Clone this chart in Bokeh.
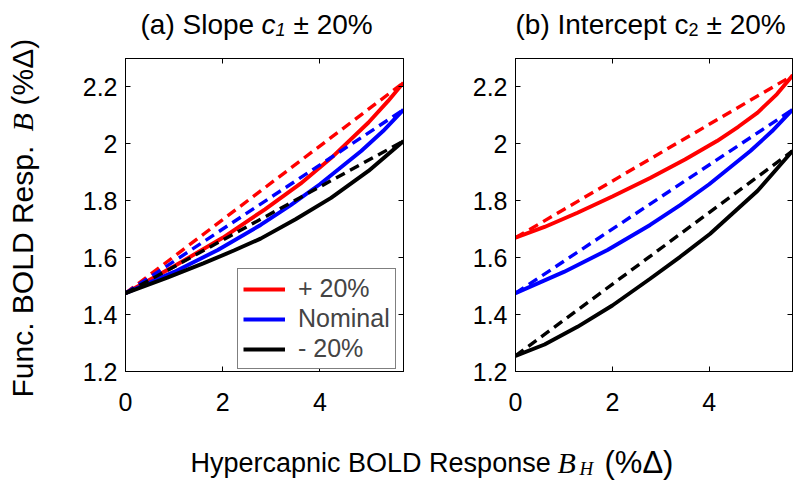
import math
from bokeh.plotting import figure
from bokeh.models import Range1d, LinearAxis, FixedTicker, Label, Legend, LegendItem
from bokeh.layouts import column, row
from bokeh.embed import file_html
from bokeh.resources import INLINE

# ---------------- data ----------------
X_MAX = 5.72
x_ticks = [0, 2, 4]
x_tick_labels = ["0", "2", "4"]
y_ticks = [1.2, 1.4, 1.6, 1.8, 2.0, 2.2]
y_tick_labels = ["1.2", "1.4", "1.6", "1.8", "2", "2.2"]

legend_labels = ["+ 20%", "Nominal", "- 20%"]

# nominal curve (same in both panels)
nominal_x = [0, 1.0, 1.9, 2.78, 3.4, 4.0, 4.85, 5.3, 5.72]
nominal_y = [1.475, 1.55, 1.627, 1.715, 1.785, 1.858, 1.975, 2.045, 2.12]
nominal_lin_x = [0, 5.72]
nominal_lin_y = [1.475, 2.12]

# panel (a): slope c1 +/- 20%
a_plus_x = [0, 1.0, 2.0, 2.87, 3.6, 4.23, 5.0, 5.4, 5.72]
a_plus_y = [1.475, 1.57, 1.67, 1.77, 1.86, 1.95, 2.075, 2.15, 2.215]
a_plus_lin_x = [0, 5.72]
a_plus_lin_y = [1.475, 2.215]
a_minus_x = [0, 0.86, 1.6, 2.23, 2.78, 3.5, 4.23, 5.0, 5.72]
a_minus_y = [1.475, 1.53, 1.58, 1.625, 1.667, 1.735, 1.81, 1.905, 2.01]
a_minus_lin_x = [0, 5.72]
a_minus_lin_y = [1.475, 2.01]

# panel (b): intercept c2 +/- 20%
b_plus_x = [0, 0.6, 1.28, 2.0, 2.78, 3.5, 4.16, 4.6, 5.0, 5.4, 5.72]
b_plus_y = [1.67, 1.708, 1.758, 1.815, 1.88, 1.945, 2.01, 2.06, 2.11, 2.175, 2.24]
b_plus_lin_x = [0, 5.72]
b_plus_lin_y = [1.67, 2.24]
b_minus_x = [0, 0.6, 1.28, 2.0, 2.78, 3.4, 4.02, 5.0, 5.72]
b_minus_y = [1.255, 1.295, 1.357, 1.432, 1.526, 1.603, 1.684, 1.835, 1.975]
b_minus_lin_x = [0, 5.72]
b_minus_lin_y = [1.255, 1.975]

RED, BLUE, BLACK = "#ff0000", "#0000ff", "#000000"
SANS = "Liberation Sans"
SERIF = "Liberation Serif"
SOLID_W = 3.9
DASH_W = 3.4
DASH = "10 6"


def style_axis(ax, ticks, labels, show_labels, standoff):
    ax.ticker = FixedTicker(ticks=ticks, minor_ticks=[])
    ax.major_label_overrides = dict(zip(ticks, labels))
    ax.major_tick_in = 5
    ax.major_tick_out = 0
    ax.minor_tick_in = 0
    ax.minor_tick_out = 0
    ax.axis_line_color = "black"
    ax.axis_line_width = 1
    ax.major_tick_line_color = "black"
    ax.major_tick_line_width = 1
    ax.major_label_text_font = SANS
    if show_labels:
        ax.major_label_text_color = "black"
        ax.major_label_text_font_size = "25px"
        ax.major_label_standoff = standoff
    else:
        ax.major_label_text_color = None
        ax.major_label_text_font_size = "1px"
        ax.major_label_standoff = 0


def make_panel(min_left, frame_w, min_right):
    p = figure(frame_width=frame_w, frame_height=313,
               min_border_left=min_left, min_border_right=min_right,
               min_border_top=8, min_border_bottom=62,
               x_range=Range1d(0, X_MAX), y_range=Range1d(1.2, 2.3),
               x_axis_type=None, y_axis_type=None,
               output_backend="svg", toolbar_location=None)
    p.outline_line_color = "black"
    p.outline_line_width = 1
    p.background_fill_color = "white"
    p.border_fill_color = "white"
    bx = LinearAxis(); style_axis(bx, x_ticks, x_tick_labels, True, 21)
    ly = LinearAxis(); style_axis(ly, y_ticks, y_tick_labels, True, 8)
    tx = LinearAxis(); style_axis(tx, x_ticks, x_tick_labels, False, 0)
    ry = LinearAxis(); style_axis(ry, y_ticks, y_tick_labels, False, 0)
    p.add_layout(bx, "below")
    p.add_layout(ly, "left")
    p.add_layout(tx, "above")
    p.add_layout(ry, "right")
    return p


def text_fig(w, h):
    f = figure(width=w, height=h, x_range=Range1d(0, w), y_range=Range1d(0, h),
               min_border=0, x_axis_type=None, y_axis_type=None,
               output_backend="svg", toolbar_location=None)
    f.outline_line_color = None
    f.background_fill_color = "white"
    f.border_fill_color = "white"
    return f


def lbl(p, text, x, y, size, font=SANS, style="normal", angle=0.0, baseline="alphabetic"):
    p.add_layout(Label(x=x, y=y, text=text,
                       text_font=font, text_font_size=size, text_font_style=style,
                       text_color="black", text_align="left",
                       text_baseline=baseline, angle=angle))


# ---------------- panel (a) ----------------
pa = make_panel(81, 278, 7)
r_plus = pa.line(a_plus_x, a_plus_y, line_color=RED, line_width=SOLID_W)
pa.line(a_plus_lin_x, a_plus_lin_y, line_color=RED, line_width=DASH_W, line_dash=DASH)
r_nom = pa.line(nominal_x, nominal_y, line_color=BLUE, line_width=SOLID_W)
pa.line(nominal_lin_x, nominal_lin_y, line_color=BLUE, line_width=DASH_W, line_dash=DASH)
r_minus = pa.line(a_minus_x, a_minus_y, line_color=BLACK, line_width=SOLID_W)
pa.line(a_minus_lin_x, a_minus_lin_y, line_color=BLACK, line_width=DASH_W, line_dash=DASH)

legend = Legend(items=[LegendItem(label=legend_labels[0], renderers=[r_plus]),
                       LegendItem(label=legend_labels[1], renderers=[r_nom]),
                       LegendItem(label=legend_labels[2], renderers=[r_minus])],
                location=(112, 2))
legend.border_line_color = "black"
legend.border_line_width = 1
legend.background_fill_color = "white"
legend.background_fill_alpha = 1
legend.padding = 5
legend.spacing = 1
legend.margin = 0
legend.glyph_width = 42
legend.glyph_height = 22
legend.label_height = 22
legend.label_standoff = 13
legend.label_text_font = SANS
legend.label_text_font_size = "25px"
pa.add_layout(legend, "center")

# ---------------- panel (b) ----------------
pb = make_panel(105, 277, 6)
pb.line(b_plus_x, b_plus_y, line_color=RED, line_width=SOLID_W)
pb.line(b_plus_lin_x, b_plus_lin_y, line_color=RED, line_width=DASH_W, line_dash=DASH)
pb.line(nominal_x, nominal_y, line_color=BLUE, line_width=SOLID_W)
pb.line(nominal_lin_x, nominal_lin_y, line_color=BLUE, line_width=DASH_W, line_dash=DASH)
pb.line(b_minus_x, b_minus_y, line_color=BLACK, line_width=SOLID_W)
pb.line(b_minus_lin_x, b_minus_lin_y, line_color=BLACK, line_width=DASH_W, line_dash=DASH)

# ---------------- titles ----------------
ta = text_fig(366, 50)
lbl(ta, "(a) Slope", 96, 26, "28px")
lbl(ta, "c", 217, 26, "28px", style="italic")
lbl(ta, "1", 231, 21, "18px", style="italic")
lbl(ta, "\u00b1 20%", 249, 26, "28px")

tb = text_fig(388, 50)
lbl(tb, "(b) Intercept", 105, 26, "28px")
lbl(tb, "c", 264, 26, "28px")
lbl(tb, "2", 278, 21, "18px")
lbl(tb, "\u00b1 20%", 296, 26, "28px")

# ---------------- y label ----------------
yl = text_fig(44, 433)
lbl(yl, "Func. BOLD Resp.", 22, 36, "30px", angle=math.pi / 2, baseline="middle")
lbl(yl, "B", 22, 302, "30px", font=SERIF, style="italic", angle=math.pi / 2, baseline="middle")
lbl(yl, "(%\u0394)", 22, 328, "30px", angle=math.pi / 2, baseline="middle")

# ---------------- x label ----------------
xl = text_fig(798, 48)
lbl(xl, "Hypercapnic BOLD Response", 190, 19, "27px")
lbl(xl, "B", 557, 19, "30px", font=SERIF, style="italic")
lbl(xl, "H", 579, 13, "19px", font=SERIF, style="italic")
lbl(xl, "(%\u0394)", 604, 19, "31px")

layout = column(row(yl, column(row(ta, tb), row(pa, pb))), xl)
open("out.html", "w").write(file_html(layout, INLINE))
